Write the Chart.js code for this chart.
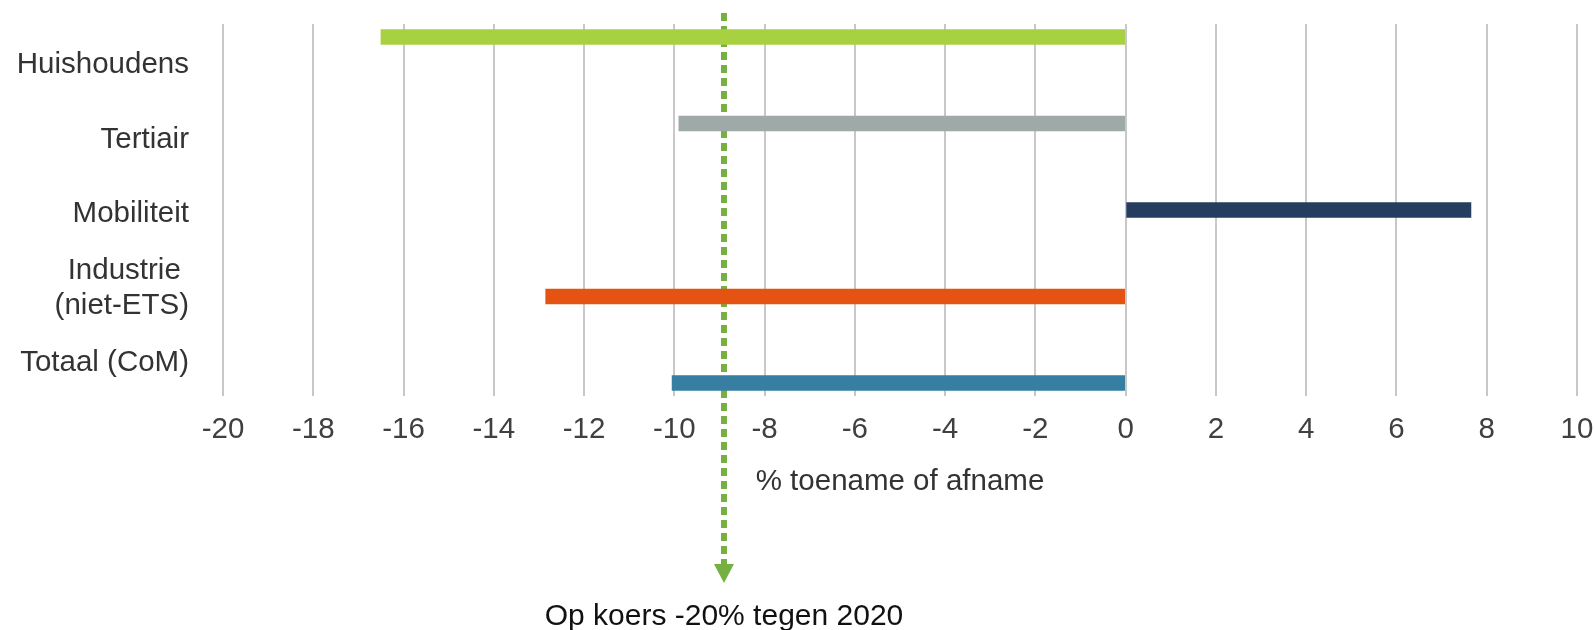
<!DOCTYPE html>
<html>
<head>
<meta charset="utf-8">
<script src="https://cdn.jsdelivr.net/npm/chart.js@4/dist/chart.umd.min.js"></script>
<style>
  html, body { margin: 0; padding: 0; background: #fff; }
  #wrap { width: 1594px; height: 630px; position: relative; }
</style>
</head>
<body>
<div id="wrap"><canvas id="chart"></canvas></div>
<script>
// ─── Data ────────────────────────────────────────────
var categories = ['Huishoudens', 'Tertiair', 'Mobiliteit', ['Industrie ', '(niet-ETS)'], 'Totaal (CoM)'];
var changes    = [-16.5, -9.9, 7.65, -12.85, -10.05];
var barColors  = ['#a8d142', '#9ea9a8', '#253d5e', '#e55312', '#377ea3'];
var xTicksMin  = -20;
var xTicksMax  = 10;
var xStep      = 2;
var xTitle     = '% toename of afname';
var targetValue = -8.9;
var targetLabel = 'Op koers -20% tegen 2020';

var FONT = '"Liberation Sans", Arial, Helvetica, sans-serif';

// ─── Target line (dotted, with arrow and caption) ────
var targetLine = {
  id: 'targetLine',
  beforeDatasetsDraw: function(chart) {
    var ctx = chart.ctx, area = chart.chartArea;
    var x = chart.scales.x.getPixelForValue(targetValue);
    var top = area.top - 11;
    var tip = area.bottom + 187;
    ctx.save();
    ctx.strokeStyle = '#76b041';
    ctx.lineWidth = 6;
    ctx.setLineDash([8, 5]);
    ctx.beginPath();
    ctx.moveTo(x, top);
    ctx.lineTo(x, tip - 18);
    ctx.stroke();
    ctx.setLineDash([]);
    ctx.fillStyle = '#76b041';
    ctx.beginPath();
    ctx.moveTo(x - 10, tip - 19);
    ctx.lineTo(x + 10, tip - 19);
    ctx.lineTo(x, tip);
    ctx.closePath();
    ctx.fill();
    ctx.fillStyle = '#111';
    ctx.font = '30px ' + FONT;
    ctx.textAlign = 'center';
    ctx.textBaseline = 'middle';
    ctx.fillText(targetLabel, x, area.bottom + 221);
    ctx.restore();
  }
};

// ─── Chart ───────────────────────────────────────────
new Chart(document.getElementById('chart').getContext('2d'), {
  type: 'bar',
  data: {
    labels: categories,
    datasets: [{
      data: changes.map(function(v, i) { return { x: v, y: i }; }),
      backgroundColor: barColors,
      borderWidth: 0,
      barThickness: 15,
      yAxisID: 'yBars'
    }]
  },
  options: {
    indexAxis: 'y',
    responsive: true,
    maintainAspectRatio: false,
    animation: false,
    layout: { padding: { top: 24, right: 17, bottom: 130, left: 0 } },
    plugins: { legend: { display: false }, tooltip: { enabled: false } },
    scales: {
      x: {
        type: 'linear',
        min: xTicksMin, max: xTicksMax,
        border: { display: false },
        grid: { color: '#c8c8c8', lineWidth: 2, drawTicks: false },
        ticks: { stepSize: xStep, padding: 16, color: '#404040', font: { family: FONT, size: 29.5 } },
        title: { display: true, text: xTitle, color: '#333', padding: { top: 17, bottom: 0 }, font: { family: FONT, size: 29.5 } },
        afterFit: function(s) { s.height = 104; s.paddingLeft = 0; s.paddingRight = 0; }
      },
      y: {
        type: 'category',
        offset: true,
        border: { display: false },
        grid: { display: false, drawTicks: false },
        ticks: { padding: 34, labelOffset: 4, color: '#333', font: { family: FONT, size: 29.5, lineHeight: 1.2 } },
        afterFit: function(s) { s.width = 223; s.paddingTop = 0; s.paddingBottom = 0; }
      },
      yBars: {
        type: 'linear',
        display: false,
        offset: false,
        reverse: true,
        min: -0.15, max: 4.15
      }
    }
  },
  plugins: [targetLine]
});
</script>
</body>
</html>
